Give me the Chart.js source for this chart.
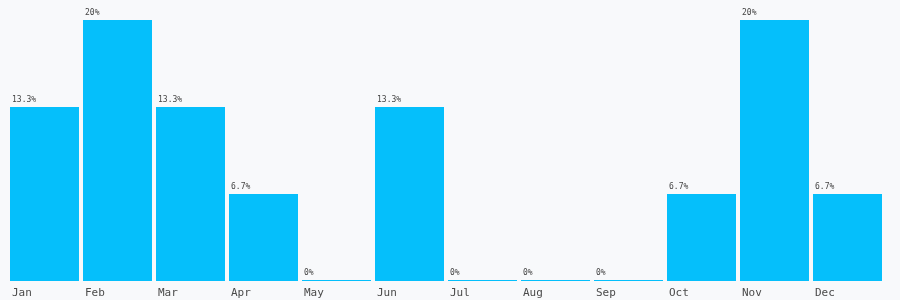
<!DOCTYPE html>
<html>
<head>
<meta charset="utf-8">
<script src="https://cdn.jsdelivr.net/npm/chart.js@4/dist/chart.umd.min.js"></script>
<style>
  html, body { margin: 0; padding: 0; background: #f8f9fb; }
  #wrap { width: 900px; height: 300px; }
</style>
</head>
<body>
<div id="wrap"><canvas id="c" width="900" height="300"></canvas></div>
<script>
const categories = ["Jan","Feb","Mar","Apr","May","Jun","Jul","Aug","Sep","Oct","Nov","Dec"];
const values = [13.33, 20, 13.33, 6.67, 0, 13.33, 0, 0, 0, 6.67, 20, 6.67];
const valueLabels = ["13.3%","20%","13.3%","6.7%","0%","13.3%","0%","0%","0%","6.7%","20%","6.7%"];

const labelPlugin = {
  id: 'labels',
  afterDatasetsDraw(chart) {
    const ctx = chart.ctx;
    const meta = chart.getDatasetMeta(0);
    const yScale = chart.scales.y;
    ctx.save();
    meta.data.forEach((el, i) => {
      const left = el.x - el.width / 2;
      ctx.fillStyle = '#444';
      ctx.textAlign = 'left';
      ctx.textBaseline = 'alphabetic';
      ctx.font = '8px "DejaVu Sans Mono", monospace';
      ctx.fillText(valueLabels[i], left + 2, Math.min(el.y, el.base) - 5);
      ctx.font = '11px "DejaVu Sans Mono", monospace';
      ctx.fillStyle = '#4a4a4a';
      ctx.fillText(categories[i], left + 2, yScale.getPixelForValue(0) + 15);
    });
    ctx.restore();
  }
};

new Chart(document.getElementById('c'), {
  type: 'bar',
  data: {
    labels: categories,
    datasets: [{
      data: values,
      backgroundColor: '#05bffb',
      borderWidth: 0,
      categoryPercentage: 1,
      barPercentage: 69 / 73,
      minBarLength: 1
    }]
  },
  options: {
    responsive: false,
    animation: false,
    layout: { padding: { left: 8, right: 16, top: 20, bottom: 19 } },
    plugins: { legend: { display: false }, tooltip: { enabled: false } },
    scales: {
      x: { display: false },
      y: { display: false, min: 0, max: 20 }
    }
  },
  plugins: [labelPlugin]
});
</script>
</body>
</html>
